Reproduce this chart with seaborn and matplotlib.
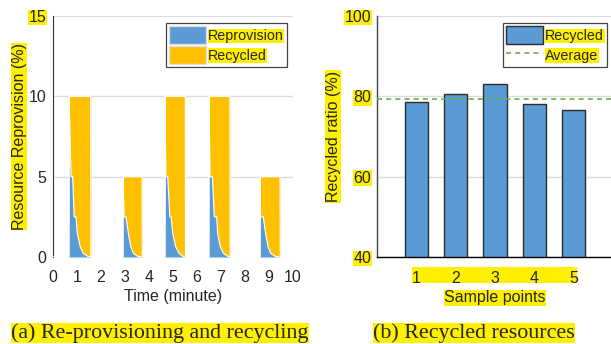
import numpy as np
import matplotlib
matplotlib.use('Agg')
import matplotlib.pyplot as plt
from matplotlib.patches import Patch, Rectangle
from matplotlib.lines import Line2D
import seaborn as sns

# ---- left panel: re-provisioning / recycling over time (minutes) ----
time_min = [0.0,
            0.66, 0.67, 0.75, 0.82, 0.88, 0.96, 1.01, 1.13, 1.26, 1.47, 1.57, 1.58,
            2.91, 2.92, 2.96, 3.04, 3.14, 3.24, 3.35, 3.55, 3.71, 3.72,
            4.66, 4.67, 4.70, 4.78, 4.87, 4.92, 4.99, 5.11, 5.25, 5.43, 5.51, 5.52,
            6.49, 6.50, 6.54, 6.64, 6.72, 6.82, 6.86, 6.97, 7.10, 7.31, 7.37, 7.38,
            8.62, 8.63, 8.65, 8.76, 8.86, 8.96, 9.07, 9.29, 9.46, 9.47,
            10.0]
reprovision = [0,
               0, 10, 5, 5, 2.5, 2.5, 1.5, 0.65, 0.23, 0.02, 0, 0,
               0, 5, 2.5, 2.5, 1.47, 0.64, 0.23, 0.02, 0, 0,
               0, 10, 5, 5, 2.5, 2.5, 1.47, 0.64, 0.23, 0.02, 0, 0,
               0, 10, 5, 5, 2.5, 2.5, 1.47, 0.64, 0.23, 0.02, 0, 0,
               0, 5, 2.5, 2.5, 1.47, 0.64, 0.23, 0.02, 0, 0,
               0]
total = [0,
         0, 10, 10, 10, 10, 10, 10, 10, 10, 10, 10, 0,
         0, 5, 5, 5, 5, 5, 5, 5, 5, 0,
         0, 10, 10, 10, 10, 10, 10, 10, 10, 10, 10, 0,
         0, 10, 10, 10, 10, 10, 10, 10, 10, 10, 10, 0,
         0, 5, 5, 5, 5, 5, 5, 5, 5, 0,
         0]

# ---- right panel: recycled ratio per sample point ----
sample_points = [1, 2, 3, 4, 5]
recycled_ratio = [78.6, 80.5, 83.1, 78.2, 76.7]
average_ratio = 79.4

BLUE = '#5B9BD5'
GOLD = '#FFC000'
GREEN = '#70AD47'
HL = '#FFF000'

sns.set_style('white')
plt.rcParams['font.family'] = ['Liberation Sans', 'DejaVu Sans']
plt.rcParams['font.size'] = 11.5
hl = dict(facecolor=HL, edgecolor='none', pad=0.3)

fig = plt.figure(figsize=(6.11, 3.44), dpi=100)
ax1 = fig.add_axes([53/611, 87/344, 240/611, 241/344])
ax2 = fig.add_axes([377/611, 87/344, 236/611, 241/344])

# left
t = np.array(time_min)
r = np.array(reprovision)
tot = np.array(total)
ax1.fill_between(t, 0, r, color=BLUE, lw=0, zorder=2)
ax1.fill_between(t, r, tot, color=GOLD, lw=0, zorder=2)
ax1.plot(t, r, color='white', lw=0.8, zorder=3)
ax1.plot(t, tot, color='white', lw=0.8, zorder=3)
ax1.set_xlim(0, 10)
ax1.set_ylim(0, 15)
ax1.set_xticks(range(0, 11))
ax1.set_yticks([0, 5, 10, 15])
ax1.grid(axis='y', color='#DDDDDD', lw=1, zorder=0)
ax1.set_axisbelow(True)
sns.despine(ax=ax1, top=True, right=True, bottom=True)
ax1.spines['left'].set_color('#333333')
ax1.spines['left'].set_linewidth(0.8)
ax1.tick_params(axis='x', direction='in', length=2, width=0.8, color='#222222', pad=9)
ax1.tick_params(axis='y', direction='in', length=0, pad=5)
ax1.set_xlabel('Time (minute)', labelpad=3)
ax1.set_ylabel('Resource Reprovision (%)', labelpad=1, bbox=hl)
for lab in ax1.get_yticklabels():
    if lab.get_text() == '15':
        lab.set_bbox(hl)
leg1 = ax1.legend(handles=[Patch(facecolor=BLUE, edgecolor='#DDDDDD', label='Reprovision'),
                           Patch(facecolor=GOLD, edgecolor='#DDDDDD', label='Recycled')],
                  loc='upper right', bbox_to_anchor=(0.975, 0.97), fontsize=10.3,
                  fancybox=False, framealpha=1, edgecolor='#444444',
                  handlelength=2.6, handleheight=1.6, handletextpad=0.15,
                  labelspacing=0.1, borderpad=0.2, borderaxespad=0)
leg1.get_frame().set_linewidth(0.9)
for txt in leg1.get_texts():
    txt.set_bbox(dict(facecolor=HL, edgecolor='none', pad=0.2))

# right
sns.barplot(x=sample_points, y=recycled_ratio, native_scale=True, width=0.6,
            color=BLUE, saturation=1, edgecolor='#2B2B2B', linewidth=1,
            ax=ax2, zorder=2)
ax2.axhline(average_ratio, color=GREEN, ls=(0, (3, 2.5)), lw=1.2, zorder=3)
ax2.set_xlim(0, 6)
ax2.set_ylim(40, 100)
ax2.set_xticks(sample_points)
ax2.set_yticks([40, 60, 80, 100])
ax2.grid(axis='y', color='#DDDDDD', lw=1, zorder=0)
ax2.set_axisbelow(True)
sns.despine(ax=ax2, top=True, right=True)
ax2.spines['left'].set_color('#444444')
ax2.spines['left'].set_linewidth(1)
ax2.spines['bottom'].set_color('black')
ax2.spines['bottom'].set_linewidth(1)
ax2.tick_params(axis='x', length=0, pad=10)
ax2.tick_params(axis='y', length=0, pad=4)
ax2.set_xlabel('Sample points', labelpad=3, bbox=hl)
ax2.set_ylabel('Recycled ratio (%)', labelpad=3, bbox=hl)
for lab in ax2.get_yticklabels():
    lab.set_bbox(hl)
leg2 = ax2.legend(handles=[Patch(facecolor=BLUE, edgecolor='#2B2B2B', label='Recycled'),
                           Line2D([], [], color=GREEN, ls=(0, (3, 2.5)), lw=1.2, label='Average')],
                  loc='upper right', bbox_to_anchor=(0.975, 0.97), fontsize=10.3,
                  fancybox=False, framealpha=1, edgecolor='#444444',
                  handlelength=2.6, handleheight=1.6, handletextpad=0.15,
                  labelspacing=0.1, borderpad=0.2, borderaxespad=0)
leg2.get_frame().set_linewidth(0.9)
for txt in leg2.get_texts():
    txt.set_bbox(dict(facecolor=HL, edgecolor='none', pad=0.2))

# highlight strip behind the right x tick labels
fig.add_artist(Rectangle((412/611, 61/344), 165/611, 16/344, transform=fig.transFigure,
                         facecolor=HL, edgecolor='none', zorder=-1))

# sub-captions
fig.text(160/611, 1 - 333/344, '(a) Re-provisioning and recycling', ha='center', va='center',
         family=['Liberation Serif', 'DejaVu Serif'], fontsize=15.8, bbox=dict(facecolor=HL, edgecolor='none', pad=0))
fig.text(474/611, 1 - 333/344, '(b) Recycled resources', ha='center', va='center',
         family=['Liberation Serif', 'DejaVu Serif'], fontsize=15.8, bbox=dict(facecolor=HL, edgecolor='none', pad=0))

fig.savefig('out.png', dpi=100)
